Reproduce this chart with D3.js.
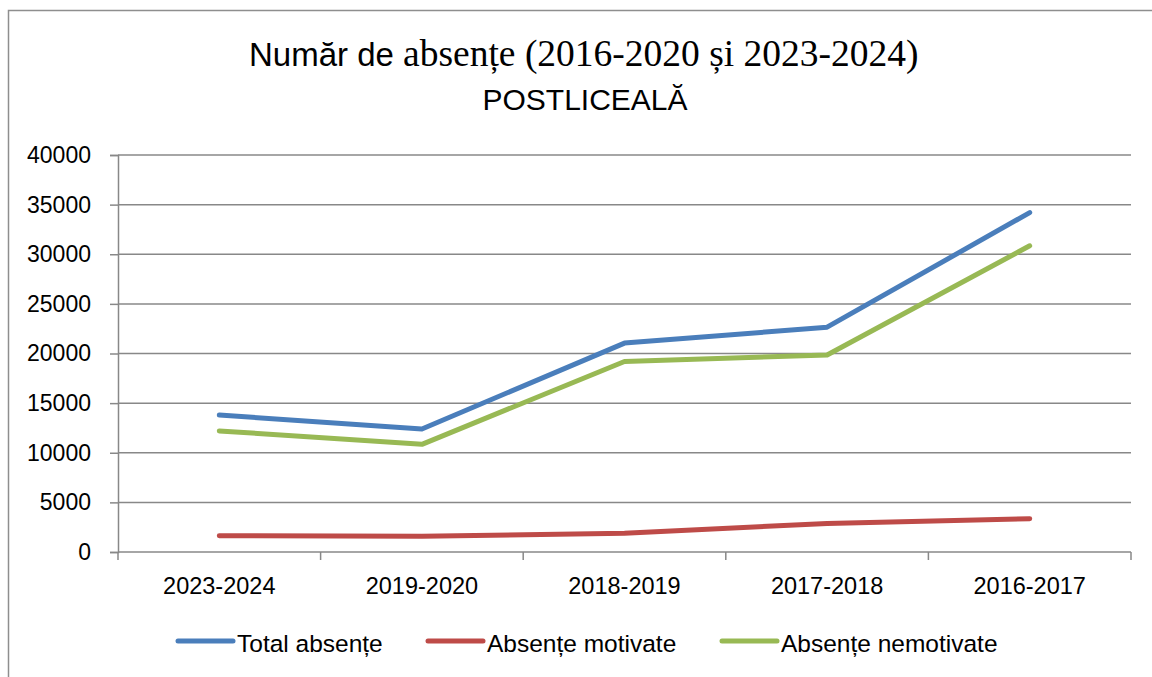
<!DOCTYPE html>
<html>
<head>
<meta charset="utf-8">
<script src="https://cdn.jsdelivr.net/npm/d3@7"></script>
<style>
  body { margin: 0; background: #fff; }
  text { font-family: "Liberation Sans", Arial, sans-serif; fill: #000; }
</style>
</head>
<body>
<div id="chart"></div>
<script>
// data
const categories = ['2023-2024', '2019-2020', '2018-2019', '2017-2018', '2016-2017']
const totalAbsente = [13800, 12400, 21050, 22650, 34200]
const absenteMotivate = [1640, 1580, 1880, 2880, 3360]
const absenteNemotivate = [12200, 10850, 19200, 19850, 30850]
const yTicks = [0, 5000, 10000, 15000, 20000, 25000, 30000, 35000, 40000]
const seriesNames = ['Total absențe', 'Absențe motivate', 'Absențe nemotivate']

const series = [
  { name: seriesNames[0], values: totalAbsente, color: '#4a7ebb' },
  { name: seriesNames[1], values: absenteMotivate, color: '#be4b48' },
  { name: seriesNames[2], values: absenteNemotivate, color: '#98b954' }
]

const width = 1152
const height = 677
const plot = { left: 118, right: 1131, top: 155, bottom: 552 }

const svg = d3.select('#chart')
  .append('svg')
  .attr('width', width)
  .attr('height', height)

// outer frame
svg.append('rect')
  .attr('x', 8.5)
  .attr('y', 10.5)
  .attr('width', width + 20)
  .attr('height', height + 20)
  .attr('fill', 'none')
  .attr('stroke', '#8e8e8e')
  .attr('stroke-width', 1.5)

// title
const title = svg.append('text')
  .attr('x', 249)
  .attr('y', 66)
title.append('tspan')
  .style('font-family', '"Liberation Sans", Arial, sans-serif')
  .style('font-size', '33px')
  .text('Număr de ')
title.append('tspan')
  .style('font-family', '"Liberation Serif", "Times New Roman", serif')
  .style('font-size', '37.5px')
  .text('absențe (2016-2020 și 2023-2024)')

svg.append('text')
  .attr('x', 585)
  .attr('y', 110)
  .attr('text-anchor', 'middle')
  .style('font-size', '30px')
  .text('POSTLICEALĂ')

// scales
const xScale = d3.scalePoint()
  .domain(categories)
  .range([plot.left, plot.right])
  .padding(0.5)

const yScale = d3.scaleLinear()
  .domain([0, 40000])
  .range([plot.bottom, plot.top])

// gridlines
svg.append('g')
  .selectAll('line')
  .data(yTicks)
  .join('line')
  .attr('x1', plot.left)
  .attr('x2', plot.right)
  .attr('y1', d => yScale(d))
  .attr('y2', d => yScale(d))
  .attr('stroke', '#888')
  .attr('stroke-width', 1.5)

// y axis
const yAxis = d3.axisLeft(yScale)
  .tickValues(yTicks)
  .tickFormat(d3.format('d'))
  .tickSize(8)
  .tickPadding(19)

const yAxisGroup = svg.append('g')
  .attr('transform', `translate(${plot.left}, 0)`)
  .call(yAxis)
yAxisGroup.select('.domain').attr('stroke', '#888').attr('stroke-width', 1.5)
yAxisGroup.selectAll('.tick line').attr('stroke', '#888').attr('stroke-width', 1.5)
yAxisGroup.selectAll('.tick text')
  .style('font-size', '23px')
  .style('font-family', '"Liberation Sans", Arial, sans-serif')
  .attr('fill', '#000')

// x axis: ticks sit between categories
const step = xScale.step()
const boundaries = d3.range(categories.length + 1).map(i => plot.left + i * step)

svg.append('g')
  .selectAll('line')
  .data(boundaries)
  .join('line')
  .attr('x1', d => d)
  .attr('x2', d => d)
  .attr('y1', plot.bottom)
  .attr('y2', plot.bottom + 8)
  .attr('stroke', '#888')
  .attr('stroke-width', 1.5)

svg.append('g')
  .selectAll('text')
  .data(categories)
  .join('text')
  .attr('x', d => xScale(d))
  .attr('y', 594)
  .attr('text-anchor', 'middle')
  .style('font-size', '23.5px')
  .text(d => d)

// lines
const line = d3.line()
  .x((d, i) => xScale(categories[i]))
  .y(d => yScale(d))

svg.append('g')
  .selectAll('path')
  .data(series)
  .join('path')
  .attr('d', d => line(d.values))
  .attr('fill', 'none')
  .attr('stroke', d => d.color)
  .attr('stroke-width', 5)
  .attr('stroke-linecap', 'round')
  .attr('stroke-linejoin', 'round')

// legend
const legendX = [178, 428, 722]
const legend = svg.append('g')
  .selectAll('g')
  .data(series)
  .join('g')
  .attr('transform', (d, i) => `translate(${legendX[i]}, 641)`)

legend.append('line')
  .attr('x1', 0)
  .attr('x2', 55)
  .attr('stroke', d => d.color)
  .attr('stroke-width', 5)
  .attr('stroke-linecap', 'round')

legend.append('text')
  .attr('x', 59)
  .attr('y', 11)
  .style('font-size', '24.5px')
  .text(d => d.name)
</script>
</body>
</html>
